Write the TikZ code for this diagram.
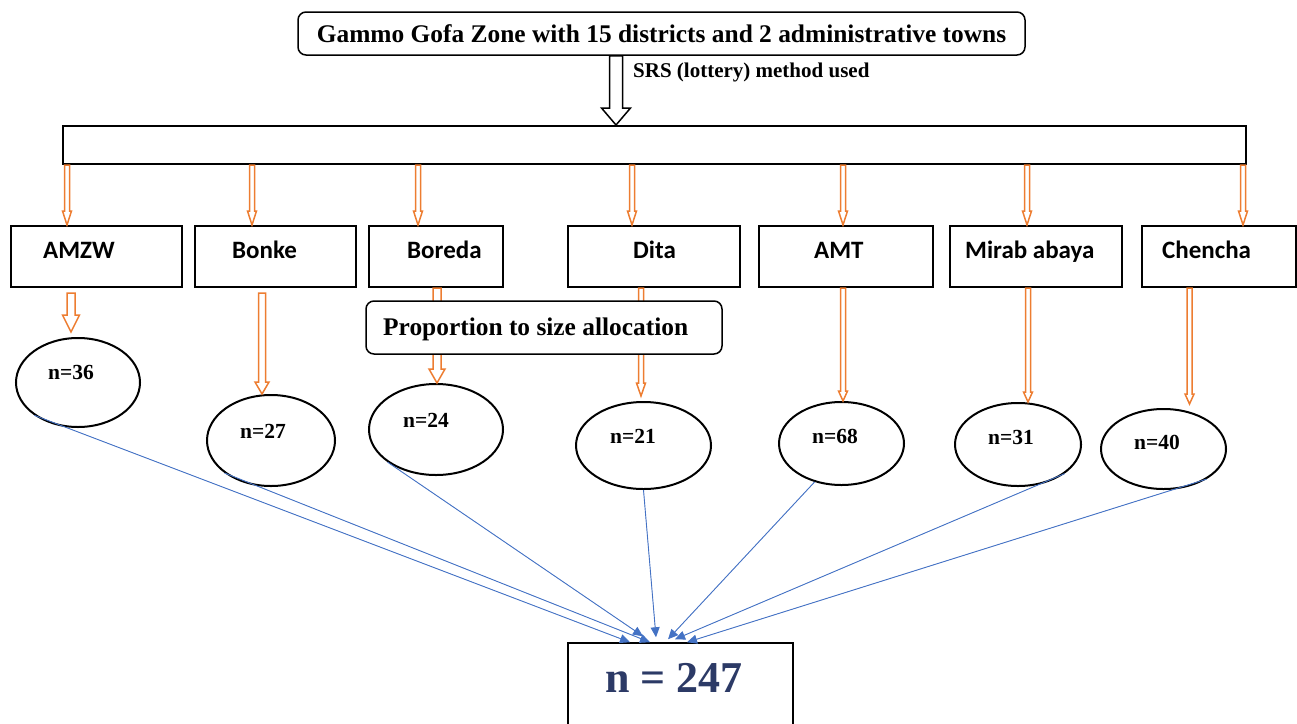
\documentclass[tikz,border=0pt]{standalone}
\usepackage{fontspec}
\setmainfont{Liberation Serif}
\newfontfamily\calibri{Carlito}
\usepackage{tikz}
\usetikzlibrary{shapes.geometric, arrows.meta, calc}
\definecolor{arrOrange}{HTML}{ED7D31}
\definecolor{lineBlue}{HTML}{4472C4}
\definecolor{totalNavy}{RGB}{44,58,102}
\tikzstyle{zoneBox} = [draw, rounded corners=8pt, line width=1.5pt, inner sep=0pt, fill=white]
\tikzstyle{plainBox} = [draw, line width=2pt, inner sep=0pt]
\tikzstyle{districtText} = [inner sep=0pt, anchor=base west, font=\calibri\bfseries\fontsize{25}{30}\selectfont]
\tikzstyle{sizeNode} = [ellipse, draw, line width=2pt, inner sep=0pt]
\tikzstyle{sizeText} = [inner sep=0pt, anchor=base west, font=\bfseries\fontsize{21.5}{26}\selectfont]
\tikzstyle{blueArrow} = [draw=lineBlue, line width=0.9pt, -{Triangle[length=10pt,width=9pt]}, fill=lineBlue]
\tikzset{hollowArrow/.style n args={3}{line width=1.5pt, to path={let \p1=(\tikztostart), \p2=(\tikztotarget) in (\x1-#1,\y1) -- (\x1-#1,\y2+#3) -- (\x1-#2,\y2+#3) -- (\x1,\y2) -- (\x1+#2,\y2+#3) -- (\x1+#1,\y2+#3) -- (\x1+#1,\y1) -- cycle}}}

\begin{document}
\begin{tikzpicture}[x=1pt, y=-1pt]
\useasboundingbox (0,0) rectangle (1297,723);

% zone and strata boxes
\node[zoneBox, minimum width=727, minimum height=43, font=\bfseries\fontsize{25.4}{30}\selectfont] (zone) at (661.5,33.5) {Gammo Gofa Zone with 15 districts and 2 administrative towns};
\node[plainBox, minimum width=1183, minimum height=38] (strata) at (654.5,145) {};
\draw[hollowArrow={6.5pt}{14.5pt}{17pt}] ([xshift=-45.5pt]zone.south) to (strata.north);
\node[inner sep=0pt, anchor=base west, font=\bfseries\fontsize{21}{25}\selectfont] (srs) at (633,77) {SRS (lottery) method used};

% districts
\node[plainBox, minimum width=171, minimum height=61] (amzw) at (96.5,256.5) {};
\node[plainBox, minimum width=161, minimum height=61] (bonke) at (275.5,256.5) {};
\node[plainBox, minimum width=134, minimum height=61] (boreda) at (436,256.5) {};
\node[plainBox, minimum width=172, minimum height=61] (dita) at (654,256.5) {};
\node[plainBox, minimum width=174, minimum height=61] (amt) at (846,256.5) {};
\node[plainBox, minimum width=172, minimum height=61] (mirab) at (1036,256.5) {};
\node[plainBox, minimum width=154, minimum height=61] (chencha) at (1219,256.5) {};
\node[districtText] (amzwText) at (43,258) {AMZW};
\node[districtText] (bonkeText) at (232,258) {Bonke};
\node[districtText] (boredaText) at (407,258) {Boreda};
\node[districtText] (ditaText) at (633,258) {Dita};
\node[districtText] (amtText) at (814,258) {AMT};
\node[districtText] (mirabText) at (965,258) {Mirab abaya};
\node[districtText] (chenchaText) at (1162,258) {Chencha};

\draw[hollowArrow={2.5pt}{4.5pt}{14pt}, draw=arrOrange] ([xshift=-587.5pt]strata.south) to (amzw.north);
\draw[hollowArrow={2.5pt}{4.5pt}{14pt}, draw=arrOrange] ([xshift=-402.5pt]strata.south) to (bonke.north);
\draw[hollowArrow={2.5pt}{4.5pt}{14pt}, draw=arrOrange] ([xshift=-236.5pt]strata.south) to (boreda.north);
\draw[hollowArrow={2.5pt}{4.5pt}{14pt}, draw=arrOrange] ([xshift=-22.5pt]strata.south) to (dita.north);
\draw[hollowArrow={2.5pt}{4.5pt}{14pt}, draw=arrOrange] ([xshift=188.5pt]strata.south) to (amt.north);
\draw[hollowArrow={2.5pt}{4.5pt}{14pt}, draw=arrOrange] ([xshift=372.5pt]strata.south) to (mirab.north);
\draw[hollowArrow={2.5pt}{4.5pt}{14pt}, draw=arrOrange] ([xshift=588.5pt]strata.south) to (chencha.north);

% sample sizes
\node[sizeNode, minimum width=124, minimum height=89] (e36) at (78,382.5) {};
\node[sizeNode, minimum width=128, minimum height=91] (e27) at (271,440.5) {};
\node[sizeNode, minimum width=134, minimum height=91] (e24) at (436,429.5) {};
\node[sizeNode, minimum width=135, minimum height=87] (e21) at (643.5,445.5) {};
\node[sizeNode, minimum width=125, minimum height=83] (e68) at (841.5,443.5) {};
\node[sizeNode, minimum width=126, minimum height=83] (e31) at (1018,444.5) {};
\node[sizeNode, minimum width=125, minimum height=80] (e40) at (1163.5,449) {};
\node[sizeText] (t36) at (48,379) {n=36};
\node[sizeText] (t27) at (240,438) {n=27};
\node[sizeText] (t24) at (403,427) {n=24};
\node[sizeText] (t21) at (610,443) {n=21};
\node[sizeText] (t68) at (812,443) {n=68};
\node[sizeText] (t31) at (988,444) {n=31};
\node[sizeText] (t40) at (1134,449) {n=40};

\draw[hollowArrow={4pt}{8.5pt}{17pt}, draw=arrOrange] ([xshift=-25.5pt, yshift=-5pt]amzw.south) to ([yshift=5pt]e36.north);
\draw[hollowArrow={3.5pt}{7pt}{12pt}, draw=arrOrange] ([xshift=-13.5pt, yshift=-5pt]bonke.south) to (e27.north);
\draw[hollowArrow={4pt}{8pt}{14pt}, draw=arrOrange] ([xshift=1pt]boreda.south) to (e24.north);
\draw[hollowArrow={2.5pt}{4.5pt}{13pt}, draw=arrOrange] ([xshift=-13pt]dita.south) to ([yshift=5pt]e21.north);
\draw[hollowArrow={2.5pt}{4.5pt}{10pt}, draw=arrOrange] ([xshift=-3pt]amt.south) to (e68.north);
\draw[hollowArrow={2.5pt}{4.5pt}{10pt}, draw=arrOrange] ([xshift=-8pt]mirab.south) to (e31.north);
\draw[hollowArrow={2.5pt}{4.5pt}{10pt}, draw=arrOrange] ([xshift=-29.5pt]chencha.south) to ([yshift=4pt]e40.north);

\node[zoneBox, minimum width=356, minimum height=53] (ppsBox) at (544,327.5) {};
\node[inner sep=0pt, anchor=base west, font=\bfseries\fontsize{25.4}{30}\selectfont] (ppsText) at (383,335) {Proportion to size allocation};

% total
\node[plainBox, line width=1.5pt, minimum width=225, minimum height=100] (total) at (680.5,693) {};
\node[inner sep=0pt, anchor=base west, text=totalNavy, font=\bfseries\fontsize{44}{50}\selectfont] (totalText) at (605,692) {n = 247};
\draw[blueArrow] (e36.217) -- ([xshift=-50.5pt]total.north);
\draw[blueArrow] (e27.215) -- ([xshift=-30.5pt]total.north);
\draw[blueArrow] (e24.214) -- ([xshift=-37.5pt, yshift=6pt]total.north);
\draw[blueArrow] (e21.south) -- ([xshift=-24.5pt, yshift=5pt]total.north);
\draw[blueArrow] (e68.235) -- ([xshift=-12.5pt, yshift=3pt]total.north);
\draw[blueArrow] (e31.328) -- ([xshift=-5.5pt, yshift=3pt]total.north);
\draw[blueArrow] (e40.325) -- ([xshift=6.5pt]total.north);
\end{tikzpicture}
\end{document}
